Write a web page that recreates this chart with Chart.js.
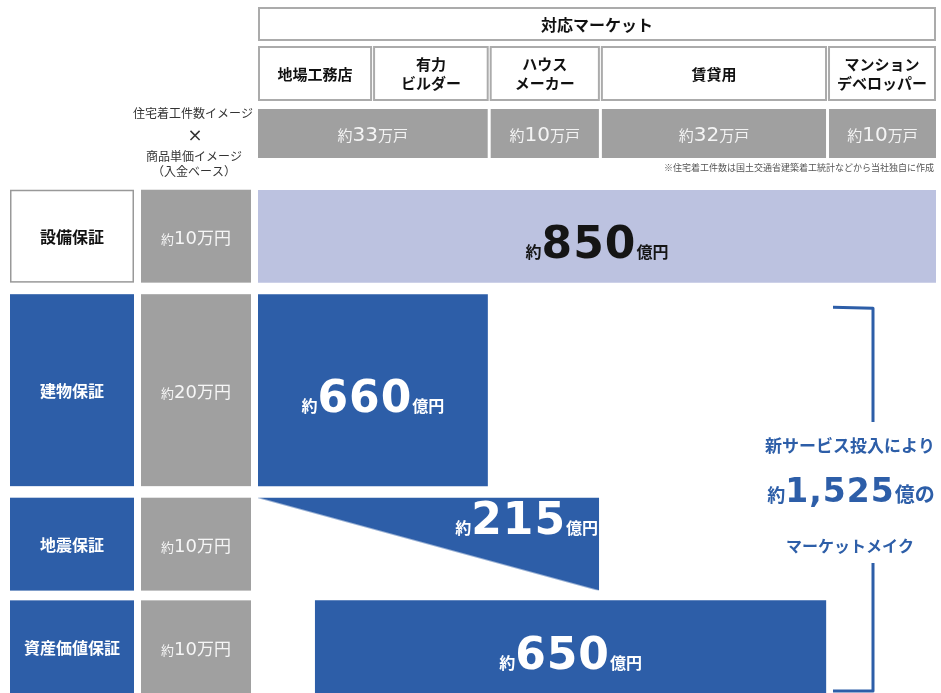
<!DOCTYPE html>
<html lang="ja">
<head>
<meta charset="utf-8">
<title>対応マーケット</title>
<script src="https://cdn.jsdelivr.net/npm/chart.js@4.4.1/dist/chart.umd.min.js"></script>
<style>
  html, body { margin: 0; padding: 0; background: #fff; }
  #wrap { position: relative; width: 941px; height: 693px; }
</style>
</head>
<body>
<div id="wrap"><canvas id="marketChart"></canvas></div>
<script>
// rows (guarantee products)
const guarantees = ['設備保証', '建物保証', '地震保証', '資産価値保証'];
const unitPrices = ['10', '20', '10', '10'];        // 万円
const marketSize = ['850', '660', '215', '650'];    // 億円
const rowSpan = [1, 2, 1, 1];
const barStart = [0, 0, 0, 8.4];                    // share of market axis
const barEnd = [100, 33.9, 50.3, 83.8];
// columns (target markets)
const markets = [['地場工務店'], ['有力', 'ビルダー'], ['ハウス', 'メーカー'], ['賃貸用'], ['マンション', 'デベロッパー']];
const marketEdges = [0, 16.9, 34.1, 50.5, 84.0, 100];
const housingStarts = ['33', '10', '32', '10'];     // 万戸
const housingCols = [[0, 2], [2, 3], [3, 4], [4, 5]];
const totalNew = '1,525';                           // 億

const BLUE = '#2d5ea8';
const LIGHT = '#bcc2e0';
const GRAY = '#a0a0a0';
const JP = '"Noto Sans CJK JP", "Noto Sans", sans-serif';
const NUM = '"DejaVu Sans", sans-serif';

const rowCenter = [];
let acc = 0;
rowSpan.forEach(s => { rowCenter.push(acc + s / 2); acc += s; });
const barPct = i => rowSpan[i] === 2 ? 0.935 : 0.905;

function drawParts(ctx, parts, x, y, align, color) {
    ctx.save();
    ctx.fillStyle = color;
    ctx.textBaseline = 'alphabetic';
    ctx.textAlign = 'left';
    let total = 0;
    const widths = parts.map(p => {
        ctx.font = p[1];
        ctx.letterSpacing = p[2] || '0px';
        const w = ctx.measureText(p[0]).width;
        total += w;
        return w;
    });
    let cx = align === 'center' ? x - total / 2 : align === 'right' ? x - total : x;
    parts.forEach((p, i) => {
        ctx.font = p[1];
        ctx.letterSpacing = p[2] || '0px';
        ctx.fillText(p[0], cx, y);
        cx += widths[i];
    });
    ctx.restore();
}

function drawText(ctx, text, x, y, font, color, align) {
    ctx.save();
    ctx.font = font;
    ctx.fillStyle = color;
    ctx.textAlign = align || 'center';
    ctx.textBaseline = 'middle';
    ctx.fillText(text, x, y);
    ctx.restore();
}

// 地震保証 is drawn as a wedge: colour only above the diagonal
function wedgeFill(context, i) {
    const chart = context.chart;
    const xs = chart.scales.x, ys = chart.scales.y;
    if (!xs || !ys) return BLUE;
    const unit = Math.abs(ys.getPixelForValue(1) - ys.getPixelForValue(0));
    const h = unit * rowSpan[i] * barPct(i);
    const yc = ys.getPixelForValue(rowCenter[i]);
    const x0 = xs.getPixelForValue(barStart[i]), x1 = xs.getPixelForValue(barEnd[i]);
    const top = yc - h / 2, bottom = yc + h / 2;
    const W = x1 - x0, H = bottom - top, L = Math.hypot(W, H);
    if (![x0, x1, top, bottom].every(Number.isFinite) || !(L > 0)) return BLUE;
    const nx = H / L, ny = -W / L;
    const g = chart.ctx.createLinearGradient(x0 - nx, top - ny, x0 + nx, top + ny);
    g.addColorStop(0, 'rgba(45,94,168,0)');
    g.addColorStop(1, BLUE);
    return g;
}

const tablePlugin = {
    id: 'tablePlugin',
    afterDatasetsDraw(chart) {
        const ctx = chart.ctx;
        const xs = chart.scales.x;
        const area = chart.chartArea;

        // header: 対応マーケット
        ctx.save();
        ctx.strokeStyle = '#ababab';
        ctx.lineWidth = 2;
        ctx.strokeRect(xs.getPixelForValue(0) + 1, 8, xs.getPixelForValue(100) - xs.getPixelForValue(0) - 2, 32);
        drawText(ctx, '対応マーケット', (area.left + area.right) / 2, 25, 'bold 16px ' + JP, '#111');

        // market columns
        markets.forEach((m, i) => {
            const l = xs.getPixelForValue(marketEdges[i]) + (i > 0 ? 1.5 : 1);
            const r = xs.getPixelForValue(marketEdges[i + 1]) - (i < markets.length - 1 ? 1.5 : 1);
            ctx.strokeStyle = '#ababab';
            ctx.lineWidth = 2;
            ctx.strokeRect(l, 47, r - l, 53);
            const cx = (l + r) / 2;
            if (m.length === 1) {
                drawText(ctx, m[0], cx, 74, 'bold 15px ' + JP, '#111');
            } else {
                drawText(ctx, m[0], cx, 64, 'bold 15px ' + JP, '#111');
                drawText(ctx, m[1], cx, 83, 'bold 15px ' + JP, '#111');
            }
        });

        // housing starts
        housingStarts.forEach((v, i) => {
            const c = housingCols[i];
            const l = xs.getPixelForValue(marketEdges[c[0]]) + (c[0] > 0 ? 1.5 : 0);
            const r = xs.getPixelForValue(marketEdges[c[1]]) - (c[1] < markets.length ? 1.5 : 0);
            ctx.fillStyle = GRAY;
            ctx.fillRect(l, 109, r - l, 49);
            drawParts(ctx, [['約', '15px ' + JP], [v, '20px ' + NUM], ['万戸', '15px ' + JP]], (l + r) / 2, 141, 'center', '#f4f4f4');
        });
        drawText(ctx, '※住宅着工件数は国土交通省建築着工統計などから当社独自に作成', area.right - 2, 168, '9px ' + JP, '#555', 'right');

        drawText(ctx, '住宅着工件数イメージ', 253, 113, '12px ' + JP, '#333', 'right');
        drawText(ctx, '×', 195, 136, '18px ' + NUM, '#333');
        drawText(ctx, '商品単価イメージ', 194, 156, '12px ' + JP, '#333');
        drawText(ctx, '（入金ベース）', 194, 171, '12px ' + JP, '#333');

        // left table + bar labels
        guarantees.forEach((name, i) => {
            const el = chart.getDatasetMeta(i).data[0];
            const top = el.y - el.height / 2, h = el.height;
            if (i === 0) {
                ctx.fillStyle = '#fff';
                ctx.fillRect(10, top, 124, h);
                ctx.strokeStyle = '#999';
                ctx.lineWidth = 1.5;
                ctx.strokeRect(10.75, top + 0.75, 122.5, h - 1.5);
            } else {
                ctx.fillStyle = BLUE;
                ctx.fillRect(10, top, 124, h);
            }
            drawText(ctx, name, 72, el.y + 1, 'bold 16px ' + JP, i === 0 ? '#111' : '#fff');
            ctx.fillStyle = GRAY;
            ctx.fillRect(141, top, 110, h);
            drawParts(ctx, [['約', '13px ' + JP], [unitPrices[i], '18px ' + NUM], ['万円', '17px ' + JP]], 196, el.y + 8, 'center', '#f6f6f6');

            const left = Math.min(el.x, el.base), right = Math.max(el.x, el.base);
            const parts = [['約', 'bold 16px ' + JP], [marketSize[i], 'bold 44px ' + NUM, '1px'], ['億円', 'bold 16px ' + JP]];
            const color = i === 0 ? '#151515' : '#fff';
            if (i === 2) {
                drawParts(ctx, parts, right - 1, el.y - 10, 'right', color);
            } else {
                drawParts(ctx, parts, (left + right) / 2, el.y + 22, 'center', color);
            }
        });

        // bracket + total
        const elTop = chart.getDatasetMeta(1).data[0];
        const elBot = chart.getDatasetMeta(3).data[0];
        const bTop = elTop.y - elTop.height / 2 + 13;
        const bBot = Math.min(elBot.y + elBot.height / 2, area.bottom) - 2;
        const bx = area.right - 63;
        ctx.strokeStyle = BLUE;
        ctx.lineWidth = 3;
        ctx.lineJoin = 'round';
        ctx.beginPath();
        ctx.moveTo(bx - 40, bTop);
        ctx.lineTo(bx, bTop + 1);
        ctx.lineTo(bx, 422);
        ctx.moveTo(bx, 563);
        ctx.lineTo(bx, bBot);
        ctx.lineTo(bx - 40, bBot);
        ctx.stroke();

        drawText(ctx, '新サービス投入により', 850, 446, 'bold 17px ' + JP, BLUE);
        drawParts(ctx, [['約', 'bold 18px ' + JP], [totalNew, 'bold 33px ' + NUM, '1px'], ['億の', 'bold 20px ' + JP]], 851, 502, 'center', BLUE);
        drawText(ctx, 'マーケットメイク', 850, 546, 'bold 16px ' + JP, BLUE);
        ctx.restore();
    }
};

const datasets = guarantees.map((name, i) => ({
    label: name,
    data: [{ x: [barStart[i], barEnd[i]], y: rowCenter[i] }],
    backgroundColor: i === 2 ? (c => wedgeFill(c, i)) : (i === 0 ? LIGHT : BLUE),
    borderWidth: 0,
    grouped: false,
    categoryPercentage: rowSpan[i],
    barPercentage: barPct(i)
}));

new Chart(document.getElementById('marketChart'), {
    type: 'bar',
    data: { datasets: datasets },
    options: {
        indexAxis: 'y',
        responsive: true,
        maintainAspectRatio: false,
        animation: false,
        events: [],
        layout: { padding: { left: 258, right: 5, top: 190, bottom: 0 } },
        plugins: { legend: { display: false }, tooltip: { enabled: false } },
        scales: {
            x: { type: 'linear', min: 0, max: 100, display: false },
            y: {
                type: 'linear', min: 0.05, max: 4.95, reverse: true, display: false, offset: false,
                afterBuildTicks: s => { s.ticks = [1, 2, 3, 4].map(v => ({ value: v })); }
            }
        }
    },
    plugins: [tablePlugin]
});
</script>
</body>
</html>
